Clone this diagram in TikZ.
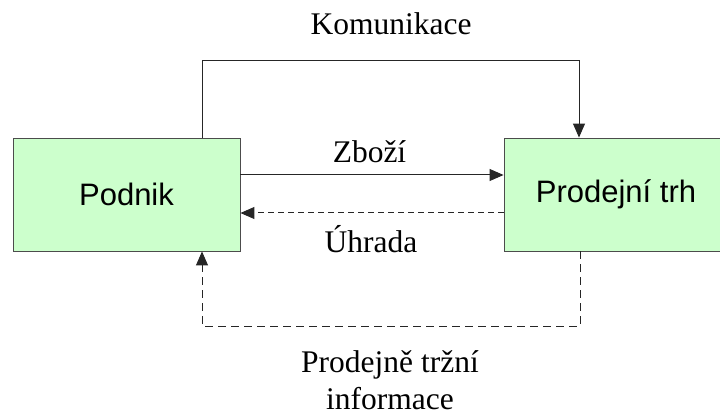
\documentclass[tikz,border=0pt]{standalone}
\usepackage{fontspec}
\setmainfont{Liberation Serif}
\newfontfamily\boxfont{Liberation Sans}
\usetikzlibrary{arrows.meta}
\tikzset{
  market/.style={draw=black!70, line width=0.9pt, fill=green!20!white, fill={rgb,255:red,204;green,255;blue,204},
    minimum height=113pt, inner sep=0pt, font=\boxfont\fontsize{31}{36}\selectfont},
  flowlabel/.style={font=\fontsize{31.5}{37}\selectfont, inner sep=0pt, anchor=base},
  flow/.style={draw=black!85, line width=1pt, -{Triangle[length=14pt,width=12pt]}},
  dashflow/.style={flow, dash pattern=on 6pt off 4pt},
  longdash/.style={flow, dash pattern=on 8pt off 5pt}
}
\begin{document}
\begin{tikzpicture}[x=1pt,y=-1pt]
  \useasboundingbox (0,0) rectangle (720,414);
  \clip (0,0) rectangle (720,414);

  % the two boxes
  \node[market, minimum width=227pt] (podnik) at (126.5,194.5) {Podnik};
  \node[market, minimum width=224pt] (trh) at (616,194.5) {Prodejní trh};

  % corner points of the routed connectors
  \coordinate (k1) at (202,61);
  \coordinate (k2) at (579,61);
  \coordinate (zy) at (0,175);
  \coordinate (uy) at (0,213);
  \coordinate (b1) at (202,326);
  \coordinate (b2) at (580,326);

  % flows
  \draw[flow] (podnik.north -| k1) -- (k1) -- (k2) -- (trh.north -| k2);
  \draw[flow] (podnik.east |- zy) -- (trh.west |- zy);
  \draw[dashflow] (trh.west |- uy) -- (podnik.east |- uy);
  \draw[longdash] (trh.south -| b2) -- (b2) -- (b1) -- (podnik.south -| b1);

  % labels
  \node[flowlabel] (lkom) at (391,35) {Komunikace};
  \node[flowlabel] (lzbo) at (369.5,163) {Zboží};
  \node[flowlabel] (luhr) at (371,252) {Úhrada};
  \node[flowlabel] (linf1) at (390,372) {Prodejně tržní};
  \node[flowlabel] (linf2) at (390,409) {informace};
\end{tikzpicture}
\end{document}
